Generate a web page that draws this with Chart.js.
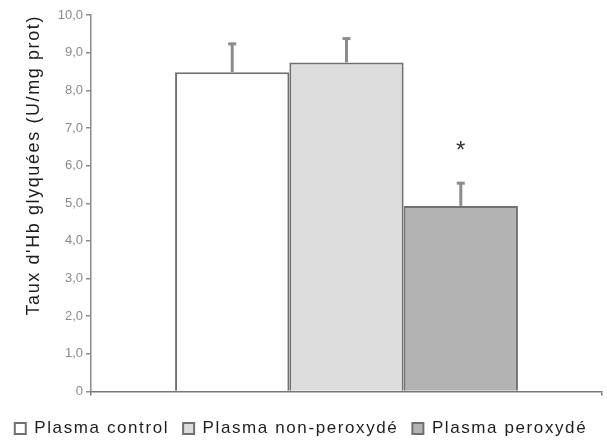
<!DOCTYPE html>
<html>
<head>
<meta charset="utf-8">
<script src="https://cdn.jsdelivr.net/npm/chart.js@4.4.1/dist/chart.umd.min.js"></script>
<style>
  html, body { margin: 0; padding: 0; background: #ffffff; }
  #wrap { width: 607px; height: 443px; }
</style>
</head>
<body>
<div id="wrap"><canvas id="c" width="607" height="443"></canvas></div>
<script>
// ---- data ----
const categories = ['Plasma control', 'Plasma non-peroxydé', 'Plasma peroxydé'];
const meanValues = [8.48, 8.74, 4.93];
const sdValues = [0.78, 0.66, 0.63];
const significance = ['', '', '*'];
const yTickLabels = ['0', '1,0', '2,0', '3,0', '4,0', '5,0', '6,0', '7,0', '8,0', '9,0', '10,0'];
const yAxisTitle = "Taux d'Hb glyquées (U/mg prot)";

// ---- styles ----
const fills = ['#ffffff', '#dcdcdc', '#b3b3b3'];
const edge = '#707070';
const errColor = '#8c8c8c';

const datasets = categories.map((name, i) => ({
  label: name,
  data: [meanValues[i]],
  backgroundColor: fills[i],
  borderColor: edge,
  borderWidth: 2,
  borderSkipped: 'start'
}));

const spacingPlugin = {
  id: 'spacing',
  beforeLayout(chart) { chart.ctx.letterSpacing = '1.6px'; },
  beforeDraw(chart) { chart.ctx.letterSpacing = '1.6px'; },
  beforeDatasetsDraw(chart) { chart.ctx.letterSpacing = '0px'; }
};

const errorPlugin = {
  id: 'errorBars',
  afterDatasetsDraw(chart) {
    const ctx = chart.ctx;
    const y = chart.scales.y;
    ctx.save();
    ctx.letterSpacing = '0px';
    chart.data.datasets.forEach((ds, i) => {
      const bar = chart.getDatasetMeta(i).data[0];
      if (!bar) return;
      const top = y.getPixelForValue(meanValues[i] + sdValues[i]);
      ctx.strokeStyle = errColor;
      ctx.lineWidth = 3;
      ctx.beginPath();
      ctx.moveTo(bar.x, bar.y);
      ctx.lineTo(bar.x, top);
      ctx.stroke();
      ctx.beginPath();
      ctx.moveTo(bar.x - 4, top + 1);
      ctx.lineTo(bar.x + 4, top + 1);
      ctx.stroke();
      if (significance[i]) {
        ctx.fillStyle = '#333333';
        ctx.font = '24px "Liberation Sans", Arial, sans-serif';
        ctx.textAlign = 'center';
        ctx.textBaseline = 'alphabetic';
        ctx.fillText(significance[i], bar.x, top - 24);
      }
    });
    ctx.restore();
  }
};

new Chart(document.getElementById('c'), {
  type: 'bar',
  data: { labels: [''], datasets },
  plugins: [spacingPlugin, errorPlugin],
  options: {
    responsive: false,
    animation: false,
    devicePixelRatio: 1,
    layout: { padding: { top: 15, right: 5, bottom: -4, left: 0 } },
    datasets: { bar: { categoryPercentage: 0.671, barPercentage: 1.0 } },
    plugins: {
      legend: {
        display: true,
        position: 'bottom',
        labels: {
          boxWidth: 11,
          boxHeight: 11,
          padding: 14,
          color: '#1e1e1e',
          font: { family: '"Liberation Sans", Arial, sans-serif', size: 17 }
        }
      },
      tooltip: { enabled: false }
    },
    scales: {
      x: {
        type: 'category',
        offset: true,
        grid: { display: true, drawOnChartArea: false, offset: true, color: '#777777', lineWidth: 1.5, tickLength: 4 },
        border: { display: true, color: '#777777', width: 1.5 },
        ticks: { display: false },
        afterFit(scale) { scale.height = 14.5; }
      },
      y: {
        min: 0,
        max: 10,
        grid: { display: true, drawOnChartArea: false, color: '#8a8a8a', lineWidth: 1.5, tickLength: 5 },
        border: { display: true, color: '#8a8a8a', width: 1.5 },
        ticks: {
          stepSize: 1,
          z: 1,
          padding: 3,
          color: '#8a8a8a',
          font: { family: '"Liberation Sans", Arial, sans-serif', size: 13 },
          callback: (v, i) => yTickLabels[i]
        },
        title: {
          display: true,
          text: yAxisTitle,
          align: 'end',
          color: '#1e1e1e',
          padding: { top: 23, bottom: 0 },
          font: { family: '"Liberation Sans", Arial, sans-serif', size: 18 }
        },
        afterFit(scale) { scale.width = 91; }
      }
    }
  }
});
</script>
</body>
</html>
